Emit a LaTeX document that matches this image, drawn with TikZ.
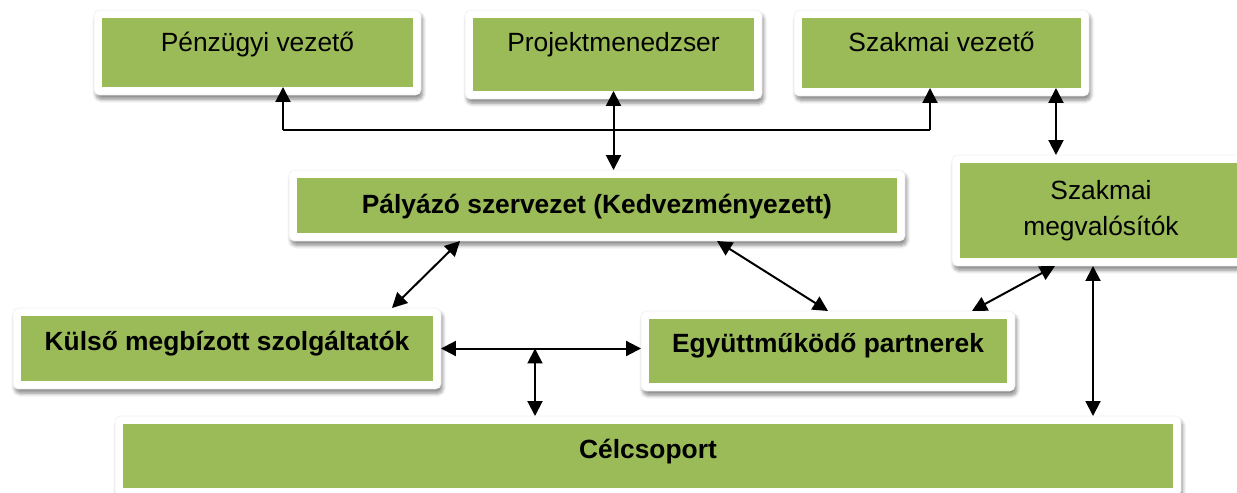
\documentclass[tikz,border=0pt]{standalone}
\usepackage{fontspec}
\setmainfont{Liberation Sans}
\usetikzlibrary{arrows.meta,shadows.blur,backgrounds,calc}
\definecolor{boxgreen}{HTML}{9BBB59}
\begin{document}
\begin{tikzpicture}[x=0.02cm,y=-0.02cm,
	font=\fontsize{15pt}{20.5pt}\selectfont,
	>={Triangle[length=0.3cm,width=0.3cm]},
	panel/.style={fill=boxgreen,inner sep=0,outer sep=0.16cm,text height=0.38cm,align=center},
	frame/.style={fill=white,draw=black!6,line width=0.4pt,rounded corners=3pt,blur shadow={shadow xshift=1pt,shadow yshift=-2.5pt,shadow blur steps=6,shadow blur radius=2pt,shadow opacity=45}},
	link/.style={line width=0.04cm}]
	\useasboundingbox (0,0) rectangle (1237,493);
	% top row
	\node[panel,minimum width=6.22cm,minimum height=1.38cm,text depth=0.4cm] (pv) at (257.5,52.5) {Pénzügyi vezető};
	\node[panel,minimum width=5.62cm,minimum height=1.46cm,text depth=0.48cm] (pm) at (613.5,54.5) {Projektmenedzser};
	\node[panel,minimum width=5.58cm,minimum height=1.40cm,text depth=0.42cm] (sv) at (941.5,53) {Szakmai vezető};
	% middle
	\node[panel,minimum width=12cm,minimum height=1.10cm,text depth=0.06cm] (pal) at (597,205.5) {\bfseries Pályázó szervezet (Kedvezményezett)};
	\node[panel,minimum width=5.64cm,minimum height=1.90cm,text height=,text depth=] (szm) at (1101,210.5) {Szakmai\\megvalósítók};
	\node[panel,minimum width=8.24cm,minimum height=1.30cm,text depth=0.3cm] (kms) at (227,348.5) {\bfseries Külső megbízott szolgáltatók};
	\node[panel,minimum width=7.16cm,minimum height=1.28cm,text depth=0.32cm] (egy) at (828,351) {\bfseries Együttműködő partnerek};
	% bottom
	\node[panel,minimum width=21cm,minimum height=1.28cm,text depth=0.3cm] (cel) at (648,456) {\bfseries Célcsoport};
	% white frames
	\begin{scope}[on background layer]
		\foreach \n in {pv,pm,sv,pal,szm,kms,egy,cel}
			\draw[frame] (\n.south west) rectangle (\n.north east);
	\end{scope}
	% connectors
	\coordinate (busL) at (283,130);
	\coordinate (busR) at (930,130);
	\draw[link] (busL) -- (busR);
	\draw[link,<-,shorten <=-0.16cm] (pv.south -| busL) -- (busL);
	\draw[link,<-,shorten <=-0.16cm] (sv.south -| busR) -- (busR);
	\draw[link,<->,shorten <=-0.16cm] (pm.south) -- (pm.south |- pal.north);
	\draw[link,<->,shorten <=-0.16cm] ([xshift=2.29cm]sv.south) -- ([xshift=2.29cm]sv.south |- szm.north);
	\draw[link,<->] ([xshift=-2.74cm]pal.south) -- ([xshift=3.3cm]kms.north);
	\draw[link,<->] ([xshift=2.4cm]pal.south) -- (egy.north);
	\draw[link,<->] ([xshift=2.88cm]egy.north) -- ([xshift=-0.92cm]szm.south);
	\draw[link,<->] ([xshift=-0.16cm]szm.south) -- ([xshift=-0.16cm]szm.south |- cel.north);
	\draw[link,<->] (kms.east) -- (kms.east -| egy.west);
	\coordinate (junc) at ($(kms.east)!0.47!(kms.east -| egy.west)$);
	\draw[link,<->] (junc) -- (junc |- cel.north);
\end{tikzpicture}
\end{document}
